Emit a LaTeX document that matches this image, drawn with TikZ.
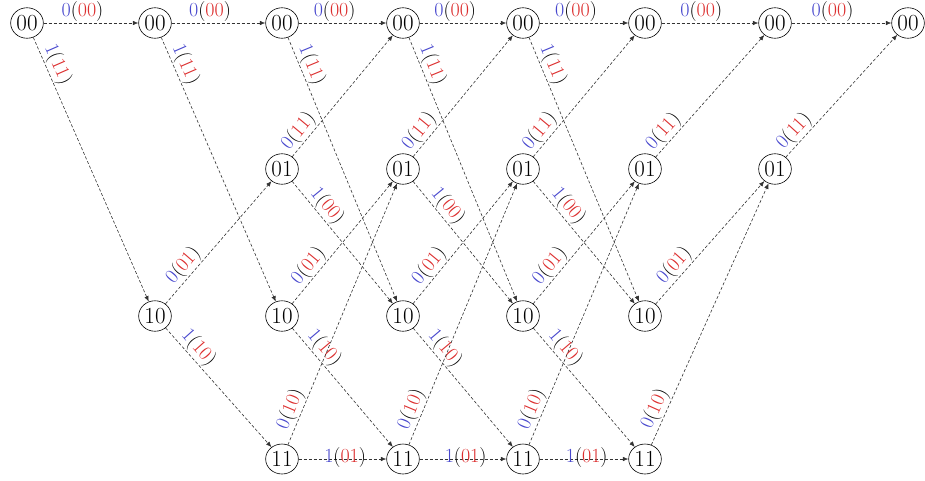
\documentclass[tikz,border=0pt]{standalone}
\usetikzlibrary{shapes.geometric,arrows.meta}
\definecolor{ibit}{RGB}{70,70,205}
\definecolor{obit}{RGB}{220,45,45}
\newcommand\trl[2]{\textcolor{ibit}{#1}(\textcolor{obit}{#2})}
\begin{document}
\begin{tikzpicture}[x=1pt,y=-1pt,
  st/.style={draw,ellipse,inner xsep=1pt,inner ysep=3pt,line width=0.6pt,font=\fontsize{23}{26}\selectfont},
  edge/.style={densely dashed,line width=0.6pt,draw=black!80,-{Latex[length=5.5pt,width=4.5pt]}},
  lbl/.style={sloped,above,inner sep=1pt,font=\fontsize{20}{23}\selectfont},
  tA/.style={lbl,pos=0.41},
  tB/.style={lbl,pos=0.12},
  tC/.style={lbl,pos=0.15},
  tD/.style={lbl,pos=0.26},
  tE/.style={lbl,pos=0.25},
  tF/.style={lbl,pos=0.23},
  tG/.style={lbl,pos=0.12},
  tH/.style={sloped,inner sep=1pt,pos=0.53,yshift=2pt,font=\fontsize{20}{23}\selectfont}]
\useasboundingbox (0,0) rectangle (925,480);
% nodes
\node[st] (c0s00) at (27,23) {00};
\node[st] (c1s00) at (155,23) {00};
\node[st] (c1s10) at (155,316) {10};
\foreach \c/\x in {2/282,3/403,4/523,5/645}{
  \node[st] (c\c s00) at (\x,23) {00};
  \node[st] (c\c s01) at (\x,169) {01};
  \node[st] (c\c s10) at (\x,316) {10};
  \node[st] (c\c s11) at (\x,459) {11};
}
\node[st] (c6s00) at (775,23) {00};
\node[st] (c6s01) at (775,169) {01};
\node[st] (c7s00) at (908,23) {00};
% edges
\foreach \i/\j in {0/1,1/2,2/3,3/4,4/5,5/6,6/7}
  \draw[edge] (c\i s00) -- node[tA]{\trl{0}{00}} (c\j s00);
\foreach \i/\j in {0/1,1/2,2/3,3/4,4/5}
  \draw[edge] (c\i s00) -- node[tB]{\trl{1}{11}} (c\j s10);
\foreach \i/\j in {2/3,3/4,4/5,5/6,6/7}
  \draw[edge] (c\i s01) -- node[tC]{\trl{0}{11}} (c\j s00);
\foreach \i/\j in {2/3,3/4,4/5}
  \draw[edge] (c\i s01) -- node[tD]{\trl{1}{00}} (c\j s10);
\foreach \i/\j in {1/2,2/3,3/4,4/5,5/6}
  \draw[edge] (c\i s10) -- node[tE]{\trl{0}{01}} (c\j s01);
\foreach \i/\j in {1/2,2/3,3/4,4/5}
  \draw[edge] (c\i s10) -- node[tF]{\trl{1}{10}} (c\j s11);
\foreach \i/\j in {2/3,3/4,4/5,5/6}
  \draw[edge] (c\i s11) -- node[tG]{\trl{0}{10}} (c\j s01);
\foreach \i/\j in {2/3,3/4,4/5}
  \draw[edge] (c\i s11) -- node[tH]{\trl{1}{01}} (c\j s11);
\end{tikzpicture}
\end{document}
